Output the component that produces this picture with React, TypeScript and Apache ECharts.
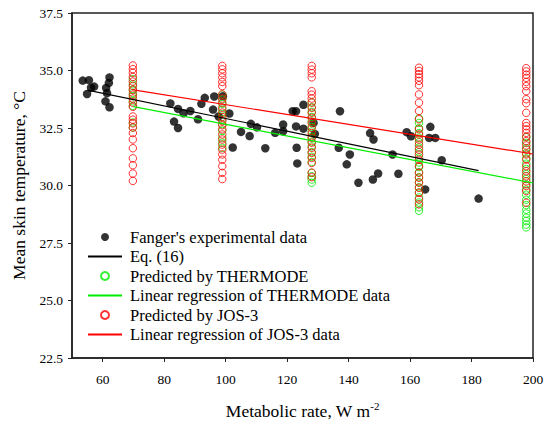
import React, { useEffect, useRef } from "react";
import * as echarts from "echarts";

// Metabolic rates (W m-2) at which the models were evaluated
const metabolicRates = [69.8, 98.9, 128.0, 162.9, 197.8];

// Predicted by JOS-3 (one list per metabolic rate)
const jos3Values = [
  [35.22, 35.06, 34.9, 34.72, 34.52, 34.33, 34.15, 33.95, 33.78, 33.6, 33.42, 33.0, 32.86, 32.7, 32.52, 32.28, 32.0, 31.62, 31.18, 30.88, 30.52, 30.2],
  [35.2, 35.05, 34.88, 34.7, 34.5, 34.32, 33.96, 33.78, 33.6, 33.38, 33.17, 32.98, 32.8, 32.62, 32.44, 32.22, 32.0, 31.78, 31.56, 31.35, 31.12, 30.84, 30.55, 30.28],
  [35.2, 35.04, 34.88, 34.7, 34.1, 33.95, 33.78, 33.6, 33.38, 33.16, 32.94, 32.72, 32.5, 32.28, 32.07, 31.86, 31.64, 31.42, 31.2, 30.98, 30.56, 30.36],
  [35.12, 34.98, 34.84, 34.7, 34.55, 34.36, 33.96, 33.6, 33.24, 32.88, 32.45, 32.22, 32.0, 31.78, 31.56, 31.35, 31.12, 30.84, 30.55, 30.34, 30.12, 29.9, 29.68, 29.4, 29.18],
  [35.1, 34.96, 34.82, 34.68, 34.5, 34.32, 34.1, 33.75, 33.58, 33.16, 32.72, 32.58, 32.44, 32.29, 32.12, 31.93, 31.74, 31.56, 31.35, 31.13, 30.84, 30.62, 30.4, 30.18, 29.98, 29.76, 29.25],
];

// Predicted by THERMODE (one list per metabolic rate)
const thermodeValues = [
  [34.62, 34.4, 34.18, 34.02, 33.88, 33.66, 33.46, 32.74, 32.52],
  [33.95, 33.74, 33.55, 33.3, 33.1, 32.88, 32.66, 32.38, 32.08, 31.86, 31.64],
  [33.62, 33.4, 33.2, 32.98, 32.78, 32.55, 32.35, 32.12, 31.9, 31.7, 31.45, 31.25, 31.02, 30.55, 30.4, 30.26, 30.12],
  [32.92, 32.72, 32.5, 32.28, 32.08, 31.88, 31.65, 31.45, 31.22, 31.0, 30.8, 30.58, 30.36, 30.15, 29.92, 29.7, 29.48, 29.26, 29.05, 28.9],
  [32.1, 31.85, 31.62, 31.4, 31.18, 30.95, 30.72, 30.5, 30.28, 30.05, 29.82, 29.6, 29.38, 29.15, 28.95, 28.78, 28.6, 28.45, 28.3, 28.18],
];

// Fanger's experimental data [metabolic rate, mean skin temperature]
const fangerData = [
  [53.5, 34.56], [55.5, 34.58], [54.9, 33.98], [57.2, 34.3], [56.2, 34.25],
  [62.2, 34.7], [62.0, 34.46], [61.1, 34.24], [61.4, 34.02], [60.9, 33.66], [62.2, 33.4],
  [82.0, 33.57], [83.2, 32.78], [84.5, 32.5], [84.5, 33.33], [86.3, 33.14], [88.5, 33.24],
  [91.0, 32.88], [92.1, 33.55], [93.2, 33.81], [96.3, 33.87], [95.9, 33.3], [97.7, 33.0],
  [99.1, 33.88], [101.2, 33.13], [102.3, 31.65], [105.0, 32.33], [107.8, 32.15], [108.2, 32.68],
  [110.2, 32.53], [112.9, 31.62], [116.1, 32.29], [118.7, 32.65], [118.7, 32.36],
  [121.8, 33.23], [122.9, 33.23], [122.9, 32.57], [123.1, 31.64], [123.3, 30.96],
  [125.3, 33.51], [125.3, 32.47], [128.6, 32.72], [129.0, 32.24],
  [137.2, 33.23], [136.8, 31.64], [140.4, 31.35], [139.4, 30.92], [143.2, 30.12],
  [147.0, 32.28], [148.1, 32.0], [147.9, 30.26], [149.6, 30.52], [154.3, 31.35], [156.2, 30.51],
  [158.9, 32.32], [160.3, 32.14], [164.9, 29.83], [166.6, 32.55], [166.2, 32.07], [168.2, 32.07],
  [170.3, 31.1], [182.3, 29.43],
];

// Fitted lines (end points)
const eq16Line = [[55, 34.15], [182.3, 30.65]];
const thermodeRegression = [[70, 33.43], [200, 30.11]];
const jos3Regression = [[70, 34.16], [200, 31.37]];

const xTicks = [60, 80, 100, 120, 140, 160, 180, 200];

const legendNames = [
  "Fanger's experimental data",
  "Eq. (16)",
  "Predicted by THERMODE",
  "Linear regression of THERMODE data",
  "Predicted by JOS-3",
  "Linear regression of JOS-3 data",
];
const lineSeriesNames = [legendNames[1], legendNames[3], legendNames[5]];

export default function App() {
  const ref = useRef<HTMLDivElement>(null);
  useEffect(() => {
    document.body.style.margin = "0";
    const chart = echarts.init(ref.current!, null, { renderer: "svg" });
    const serif = "Liberation Serif";
    const toPoints = (vals: number[][]) =>
      vals.flatMap((col, i) => col.map((v) => [metabolicRates[i], v]));
    const axisColor = "#222";
    chart.setOption({
      animation: false,
      textStyle: { fontFamily: serif },
      grid: {
        left: 72,
        right: 17,
        top: 13,
        bottom: 69,
        show: true,
        borderColor: axisColor,
        borderWidth: 1.5,
      },
      legend: {
        orient: "vertical",
        left: 87,
        top: 228.5,
        padding: 0,
        itemWidth: 34,
        itemHeight: 8,
        itemGap: 2.5,
        selectedMode: false,
        data: legendNames.map((n) =>
          lineSeriesNames.includes(n) ? { name: n, itemStyle: { opacity: 0 } } : { name: n }
        ),
        textStyle: {
          fontFamily: serif,
          fontSize: 16.5,
          lineHeight: 16.5,
          color: "#000",
          padding: [0, 0, 0, 3],
        },
      },
      xAxis: {
        type: "value",
        min: 50,
        max: 200,
        name: "Metabolic rate, W m{sup|-2}",
        nameLocation: "middle",
        nameGap: 42,
        nameTextStyle: {
          fontFamily: serif,
          fontSize: 17.5,
          color: "#000",
          lineHeight: 22,
          rich: {
            sup: { fontFamily: serif, fontSize: 11, color: "#000", verticalAlign: "top", lineHeight: 22, padding: [0, 0, 10, 0] },
          },
        },
        axisLine: { show: true, lineStyle: { color: axisColor, width: 1.5 } },
        axisTick: { show: true, length: 4, customValues: xTicks, lineStyle: { color: axisColor } },
        axisLabel: {
          customValues: xTicks,
          margin: 14,
          fontFamily: serif,
          fontSize: 13.5,
          color: "#000",
        },
        splitLine: { show: false },
      },
      yAxis: {
        type: "value",
        min: 22.5,
        max: 37.5,
        interval: 2.5,
        name: "Mean skin temperature, °C",
        nameLocation: "middle",
        nameGap: 43,
        nameTextStyle: { fontFamily: serif, fontSize: 17.5, color: "#000" },
        axisLine: { show: true, lineStyle: { color: axisColor, width: 1.5 } },
        axisTick: { show: true, length: 4, lineStyle: { color: axisColor } },
        axisLabel: {
          margin: 9,
          fontFamily: serif,
          fontSize: 13.5,
          color: "#000",
          formatter: (v: number) => v.toFixed(1),
        },
        splitLine: { show: false },
      },
      series: [
        {
          name: "Fanger's experimental data",
          type: "scatter",
          symbol: "circle",
          symbolSize: 8.5,
          itemStyle: { color: "#000" },
          data: fangerData,
        },
        {
          name: "Predicted by THERMODE",
          type: "scatter",
          symbol: "circle",
          symbolSize: 7.5,
          itemStyle: { color: "transparent", borderColor: "#00ee00", borderWidth: 1 },
          data: toPoints(thermodeValues),
        },
        {
          name: "Predicted by JOS-3",
          type: "scatter",
          symbol: "circle",
          symbolSize: 7.5,
          itemStyle: { color: "transparent", borderColor: "#ff0000", borderWidth: 1 },
          data: toPoints(jos3Values),
        },
        {
          name: "Eq. (16)",
          type: "line",
          symbol: "none",
          color: "#000",
          lineStyle: { color: "#000", width: 1.2 },
          data: eq16Line,
        },
        {
          name: "Linear regression of THERMODE data",
          type: "line",
          symbol: "none",
          color: "#00ee00",
          lineStyle: { color: "#00ee00", width: 1.2 },
          data: thermodeRegression,
        },
        {
          name: "Linear regression of JOS-3 data",
          type: "line",
          symbol: "none",
          color: "#ff0000",
          lineStyle: { color: "#ff0000", width: 1.2 },
          data: jos3Regression,
        },
      ],
    });
    return () => chart.dispose();
  }, []);
  return <div ref={ref} style={{ width: 550, height: 427 }} />;
}
